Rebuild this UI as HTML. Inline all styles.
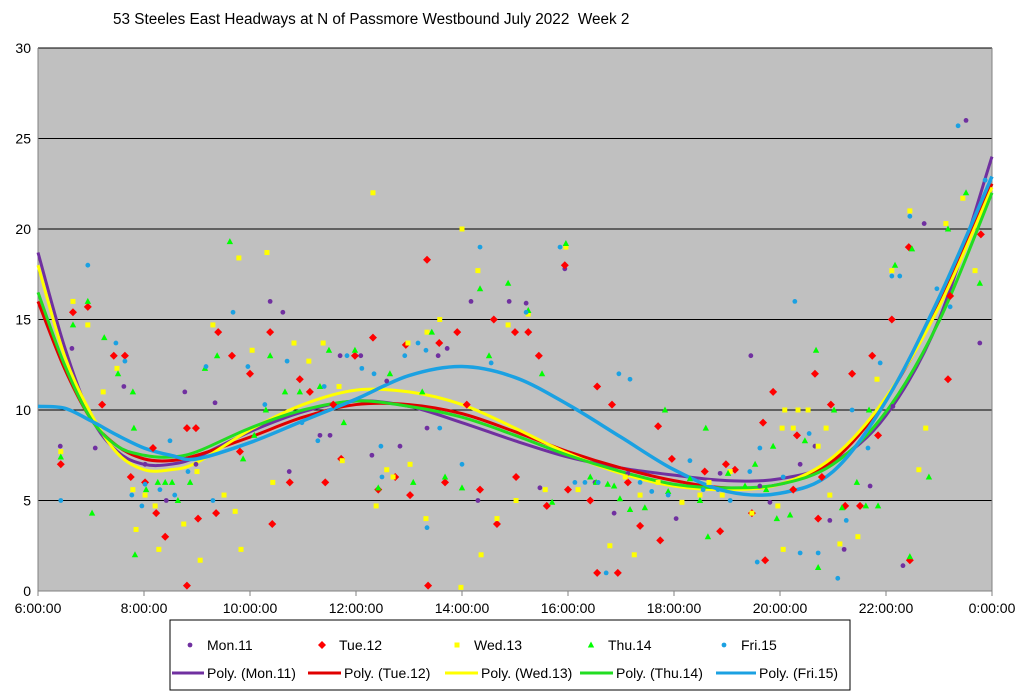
<!DOCTYPE html>
<html><head><meta charset="utf-8"><style>
body{margin:0;background:#fff;width:1024px;height:697px;overflow:hidden;font-family:"Liberation Sans",sans-serif}
svg{display:block}
text{font-family:"Liberation Sans",sans-serif;fill:#000}
</style></head><body>
<svg id="chart" width="1024" height="697">
<text x="113" y="24" font-size="15.3" style="white-space:pre">53 Steeles East Headways at N of Passmore Westbound July 2022&#160; Week 2</text>
<rect x="38" y="48" width="954" height="543" fill="#c0c0c0"/>
<g id="grid"></g><g id="axes"></g><g id="trends"></g><g id="pts"></g>
<g id="legend">
<rect x="170" y="620" width="680" height="70" fill="#fff" stroke="#000" stroke-width="1"/>
</g>
</svg>
<script>
const yTicks=[0,5,10,15,20,25,30];
const xTicks=[6,8,10,12,14,16,18,20,22,24];
const xTickLabels=["6:00:00","8:00:00","10:00:00","12:00:00","14:00:00","16:00:00","18:00:00","20:00:00","22:00:00","0:00:00"];
const seriesNames=["Mon.11","Tue.12","Wed.13","Thu.14","Fri.15"];
const colors=["#7030a0","#ff0000","#ffff00","#00ff00","#1ba1e2"];
const lineColors=["#7030a0","#e00000","#ffff00","#22dd22","#1ba1e2"];
const monT=[6.42,6.64,7.08,7.62,8.02,8.42,8.77,8.98,9.34,10.38,10.62,10.74,11.32,11.51,11.7,12.09,12.3,12.58,12.83,13.34,13.55,13.72,14.17,14.3,14.89,15.21,15.47,15.94,16.51,16.87,17.13,18.04,18.87,19.45,19.62,19.81,20.38,20.66,20.94,21.21,21.7,22.13,22.32,22.72,23.51,23.77];
const monV=[8.0,13.4,7.9,11.3,7.0,5.0,11.0,7.0,10.4,16.0,15.4,6.6,8.6,8.6,13.0,13.0,7.5,11.6,8.0,9.0,13.0,13.4,16.0,5.0,16.0,15.9,5.7,17.8,6.0,4.3,6.5,4.0,6.5,13.0,5.8,4.9,7.0,8.0,3.9,2.3,5.8,10.2,1.4,20.3,26.0,13.7];
const tueT=[6.43,6.66,6.94,7.21,7.43,7.64,7.75,8.02,8.17,8.23,8.4,8.81,8.81,8.98,9.02,9.36,9.4,9.66,9.81,10,10.42,10.38,10.75,10.94,11.13,11.42,11.57,11.72,11.98,12.32,12.42,12.74,12.94,13.02,13.34,13.36,13.57,13.68,13.91,14.09,14.34,14.6,14.66,15,15.02,15.25,15.45,15.6,15.94,16,16.42,16.55,16.55,16.83,16.94,17.13,17.36,17.7,17.74,17.96,18.58,18.87,18.98,19.15,19.47,19.72,19.68,19.87,20.25,20.32,20.66,20.72,20.79,20.96,21.23,21.36,21.51,21.74,21.85,22.11,22.43,22.45,23.17,23.21,23.79];
const tueV=[7.0,15.4,15.7,10.3,13,13,6.3,6,7.9,4.3,3,0.3,9,9,4,4.3,14.3,13,7.7,12,3.7,14.3,6,11.7,11,6,10.3,7.3,13,14,5.6,6.3,13.6,5.3,18.3,0.3,13.7,6,14.3,10.3,5.6,15,3.7,14.3,6.3,14.3,13,4.7,18,5.6,5,11.3,1.0,10.3,1,6,3.6,9.1,2.8,7.3,6.6,3.3,7,6.7,4.3,1.7,9.3,11,5.6,8.6,12,4,6.3,10.3,4.7,12,4.7,13,8.6,15,19,1.7,11.7,16.3,19.7];
const wedT=[6.43,6.66,6.94,7.23,7.49,7.79,7.85,8.02,8.21,8.28,8.75,9,9.06,9.3,9.51,9.72,9.79,9.83,10.04,10.32,10.43,10.83,11.11,11.38,11.68,11.74,12.32,12.38,12.58,12.7,12.98,13.02,13.32,13.34,13.58,14,13.98,14.3,14.36,14.66,14.87,15.02,15.25,15.57,15.96,16.19,16.79,17.08,17.25,17.36,17.7,18.15,18.49,18.66,18.91,19.06,19.47,19.96,20.06,20.09,20.04,20.25,20.34,20.53,20.72,20.87,20.94,21.13,21.47,21.83,22.11,22.45,22.62,22.75,23.13,23.45,23.68];
const wedV=[7.7,16,14.7,11,12.3,5.6,3.4,5.3,4.7,2.3,3.7,6.6,1.7,14.7,5.3,4.4,18.4,2.3,13.3,18.7,6,13.7,12.7,13.7,11.3,7.2,22,4.7,6.7,6.3,13.7,7,4,14.3,15,20,0.2,17.7,2,4,14.7,5,15.3,5.6,19,5.6,2.5,6.3,2,5.3,6,4.9,5.3,6,5.3,6.6,4.3,4.7,2.3,10,9,9,10,10,8,9,5.3,2.6,3,11.7,17.7,21,6.7,9,20.3,21.7,17.7];
const thuT=[6.43,6.66,6.94,7.02,7.25,7.51,7.79,7.81,7.83,8.04,8.26,8.4,8.53,8.64,8.87,9.15,9.38,9.62,9.87,10.08,10.3,10.38,10.66,10.94,11.32,11.49,11.77,11.98,12.42,12.64,13.08,13.25,13.43,13.68,14,14.34,14.51,14.87,15.25,15.51,15.7,15.96,16.42,16.53,16.75,16.87,16.98,17.17,17.45,17.83,17.89,18.3,18.49,18.6,18.64,19.02,19.34,19.53,19.74,19.87,19.94,20.19,20.47,20.68,20.72,21.02,21.17,21.45,21.62,21.68,21.85,22.17,22.45,22.49,22.81,23.17,23.51,23.77];
const thuV=[7.4,14.7,16,4.3,14,12,11,9,2,5.6,6,6,6,5,6,12.3,13,19.3,7.3,8.6,10,13,11,11,11.3,13.3,9.3,13.3,5.7,12,6,11,14.3,6.3,5.7,16.7,13,17,15.5,12,4.9,19.2,6.3,6,5.9,5.8,5.1,4.5,4.6,10,5.5,6.2,5,9,3,6.5,5.8,7,5.6,8,4,4.2,8.3,13.3,1.3,10,4.6,6,4.7,10,4.7,18,1.9,18.9,6.3,20,22,17];
const friT=[6.43,6.94,7.47,7.64,7.77,7.96,8.02,8.3,8.49,8.58,8.83,9.17,9.3,9.68,9.96,10.28,10.7,10.98,11.28,11.4,11.83,12.11,12.34,12.47,12.49,12.92,13.17,13.32,13.34,13.58,14,14.34,14.55,15.21,15.85,16.13,16.32,16.57,16.72,16.96,17.17,17.36,17.58,17.89,18.3,18.55,18.83,19.06,19.43,19.57,19.62,20.06,20.28,20.38,20.55,20.72,21.09,21.25,21.36,21.66,21.89,22.11,22.26,22.45,22.96,23.21,23.36,23.87];
const friV=[5,18,13.7,12.7,5.3,4.7,5.9,5.6,8.3,5.3,6.6,12.4,5,15.4,12.4,10.3,12.7,9.3,8.3,11.3,13,12.3,12,8,6.3,13,13.7,13.3,3.5,9,7,19,12.6,15.4,19,6,6,6,1,12,11.7,6,5.5,5.3,7.2,5.6,5.6,5,6.6,1.6,7.9,6.3,16,2.1,8.7,2.1,0.7,3.9,10,7.9,12.6,17.4,17.4,20.7,16.7,15.7,25.7,22.7];
const trendHours=[6,6.5,7,7.5,8,8.5,9,10,11,12,13,14,15,16,17,18,19,20,21,22,23,24];
const monTrend=[18.7,13.5,9.6,7.7,7.0,7.0,7.4,8.8,9.9,10.5,10.2,9.3,8.3,7.4,6.8,6.4,6.1,6.2,7.1,9.7,15.0,24.0];
const tueTrend=[16.0,12.3,9.5,8.0,7.3,7.2,7.5,8.5,9.6,10.3,10.3,9.8,8.8,7.7,6.8,6.1,5.7,5.9,7.2,10.6,15.8,22.5];
const wedTrend=[18.0,13.0,9.8,7.6,6.7,6.7,7.1,8.9,10.3,11.1,11.0,10.3,9.0,7.6,6.5,5.8,5.6,5.9,7.4,10.7,15.7,22.3];
const thuTrend=[16.5,12.5,9.5,8.0,7.5,7.4,7.7,9.0,10.0,10.5,10.2,9.6,8.6,7.5,6.6,5.9,5.7,5.9,7.0,9.9,14.9,22.0];
const friTrend=[10.2,10.1,9.4,8.6,7.9,7.5,7.3,8.2,9.4,10.6,11.9,12.4,11.8,10.3,8.5,6.7,5.5,5.4,6.6,10.5,16.2,22.9];

const NS='http://www.w3.org/2000/svg';
const X0=38,X1=992,Y0=591,Y1=48;
function xs(h){return X0+(h-6)/18*(X1-X0);}
function ys(v){return Y0-v/30*(Y0-Y1);}
function mk(tag,attrs,parent){const e=document.createElementNS(NS,tag);for(const k in attrs)e.setAttribute(k,attrs[k]);parent.appendChild(e);return e;}
const grid=document.getElementById('grid'),axes=document.getElementById('axes');
yTicks.forEach(v=>{
  if(v>0){const l=mk('line',{x1:X0,x2:X1,y1:ys(v),y2:ys(v),stroke:'#000','stroke-width':1},grid);
  
  }
  const t=mk('text',{x:31,y:ys(v)+5,'text-anchor':'end','font-size':14},axes);t.textContent=v;
  
  
});
mk('line',{x1:X0,x2:X0,y1:Y1,y2:Y0,stroke:'#808080'},axes);
mk('line',{x1:X1,x2:X1,y1:Y1,y2:Y0,stroke:'#808080'},axes);
mk('line',{x1:X0,x2:X1,y1:Y0,y2:Y0,stroke:'#808080'},axes);
xTicks.forEach((h,i)=>{
  mk('line',{x1:xs(h),x2:xs(h),y1:Y0,y2:Y0+5,stroke:'#808080'},axes);
  const t=mk('text',{x:xs(h),y:613,'text-anchor':'middle','font-size':14},axes);t.textContent=xTickLabels[i];
  
  
});
function marker(type,x,y,c,parent){
  if(type===0||type===4)return mk('circle',{cx:x,cy:y,r:2.4,fill:c},parent);
  if(type===1)return mk('path',{d:`M${x} ${y-4}L${x+4} ${y}L${x} ${y+4}L${x-4} ${y}Z`,fill:c},parent);
  if(type===2)return mk('rect',{x:x-2.5,y:y-2.5,width:5,height:5,fill:c},parent);
  return mk('path',{d:`M${x} ${y-3.5}L${x+3.2} ${y+2.5}L${x-3.2} ${y+2.5}Z`,fill:c},parent);
}
const allT=[monT,tueT,wedT,thuT,friT],allV=[monV,tueV,wedV,thuV,friV];
const trends=[monTrend,tueTrend,wedTrend,thuTrend,friTrend];
const pts=document.getElementById('pts'),tr=document.getElementById('trends');
function curve(hs,vs){
  const p=hs.map((h,i)=>[xs(h),ys(vs[i])]);
  let d=`M${p[0][0]} ${p[0][1]}`;
  for(let i=0;i<p.length-1;i++){
    const a=p[i-1]||p[i],b=p[i],c=p[i+1],e=p[i+2]||c;
    d+=`C${b[0]+(c[0]-a[0])/6} ${b[1]+(c[1]-a[1])/6} ${c[0]-(e[0]-b[0])/6} ${c[1]-(e[1]-b[1])/6} ${c[0]} ${c[1]}`;
  }
  return d;
}
allT.forEach((ts,s)=>{
  const g=mk('g',{},pts);
  
  
  ts.forEach((h,i)=>{
    const m=marker(s,xs(h),ys(allV[s][i]),colors[s],g);
    
    
  });
});
trends.forEach((vs,s)=>{
  const p=mk('path',{d:curve(trendHours,vs),fill:'none',stroke:lineColors[s],'stroke-width':s===4?3.5:3},tr);
  
  
});
const lg=document.getElementById('legend');
const r1x=[190,322,457,591,724],r2x=[172,308,445,580,716];
const r2w=[32,33,33,33,40];
seriesNames.forEach((n,s)=>{
  const m=marker(s,r1x[s],645,colors[s],lg);
  
  
  const t=mk('text',{x:r1x[s]+17,y:650,'font-size':14},lg);t.textContent=n;
  
  
  const l=mk('line',{x1:r2x[s],x2:r2x[s]+r2w[s],y1:673,y2:673,stroke:lineColors[s],'stroke-width':3},lg);
  
  
  const t2=mk('text',{x:r2x[s]+r2w[s]+3,y:678,'font-size':14},lg);t2.textContent='Poly. ('+n+')';
  
  
});
</script>
</body></html>
